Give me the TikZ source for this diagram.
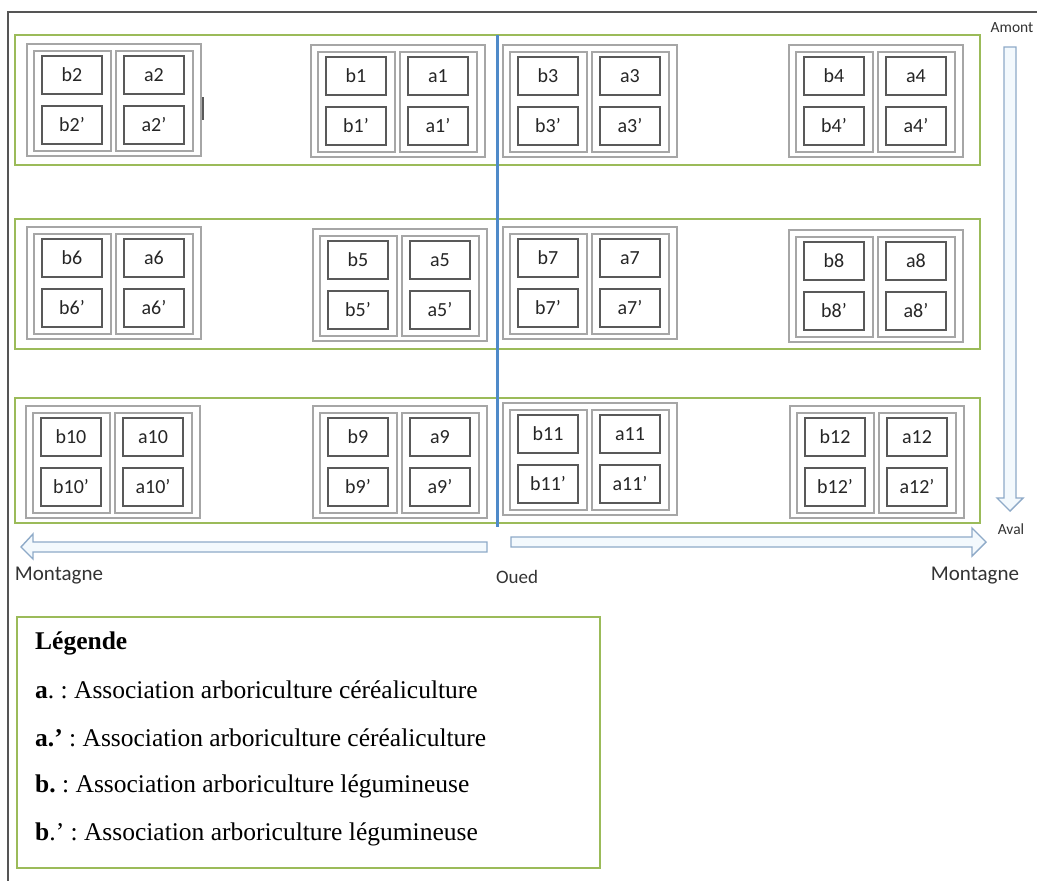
\documentclass[tikz,border=0pt]{standalone}
\usepackage{fontspec}
\setmainfont{Carlito}
\newfontfamily\legfont{Liberation Serif}
\frenchspacing
\definecolor{bandgreen}{HTML}{9BBB59}
\definecolor{boxgray}{HTML}{A6A6A6}
\definecolor{lblgray}{HTML}{595959}
\definecolor{riverblue}{HTML}{4F8AC9}
\definecolor{arrowline}{HTML}{8EAAC8}
\definecolor{arrowfill}{HTML}{F3F9FD}
\definecolor{framegray}{HTML}{555555}
\tikzset{
  band/.style={draw=bandgreen,line width=1.6pt},
  blk/.style={draw=boxgray,line width=1.6pt},
  lbl/.style={draw=lblgray,line width=1.3pt,minimum width=60pt,minimum height=38pt,inner sep=0pt,font=\fontsize{20}{20}\selectfont,text=black!85},
  hollow/.style={draw=arrowline,fill=arrowfill,line width=1.4pt,line join=miter},
  tag/.style={font=\fontsize{21}{21}\selectfont,text=black!80,inner sep=0pt},
  smalltag/.style={font=\fontsize{15.5}{15.5}\selectfont,text=black!80,inner sep=0pt},
  legline/.style={anchor=west,inner sep=0pt,font=\legfont\fontsize{25.5}{25.5}\selectfont}
}
\newcommand\plotblock[3]{%
  \draw[blk] (#1,#2) rectangle ++(174,112);
  \draw[blk] (#1+7,#2+7) rectangle ++(77,100);
  \draw[blk] (#1+89,#2+7) rectangle ++(77,100);
  \node[lbl] (b#3) at (#1+45,#2+31) {b#3};
  \node[lbl] (b#3p) at (#1+45,#2+81) {b#3’};
  \node[lbl] (a#3) at (#1+127,#2+31) {a#3};
  \node[lbl] (a#3p) at (#1+127,#2+81) {a#3’};
}
\begin{document}
\begin{tikzpicture}[x=1pt,y=-1pt]
\useasboundingbox (0,0) rectangle (1037,881);
\fill[white] (0,0) rectangle (1037,881);
% frame lines
\draw[framegray,line width=1.2pt] (8,881) -- (8,12) -- (1037,12);
% bands
\draw[band] (15,35) rectangle (980,165);
\draw[band] (15,219) rectangle (980,349);
\draw[band] (15,398) rectangle (980,523);
% blocks row 1
\plotblock{27}{44}{2}
\plotblock{311}{45}{1}
\plotblock{503}{45}{3}
\plotblock{789}{45}{4}
\draw[lblgray,line width=1.2pt] (203,97) -- (203,120);
% row 2
\plotblock{27}{227}{6}
\plotblock{313}{229}{5}
\plotblock{503}{227}{7}
\plotblock{789}{230}{8}
% row 3
\plotblock{26}{406}{10}
\plotblock{313}{406}{9}
\plotblock{503}{403}{11}
\plotblock{790}{406}{12}
% river
\draw[riverblue,line width=3pt] (497,35) -- (497,527);
% arrows
\draw[hollow] (1004,47) -- (1016,47) -- (1016,498) -- (1023,498) -- (1010,511) -- (997,498) -- (1004,498) -- cycle;
\draw[hollow] (487,542) -- (33,542) -- (33,534) -- (21,547) -- (33,559) -- (33,552) -- (487,552) -- cycle;
\draw[hollow] (511,537) -- (972,537) -- (972,528) -- (986,542) -- (972,556) -- (972,547) -- (511,547) -- cycle;
% labels
\node[smalltag] (amont) at (1012,28) {Amont};
\node[smalltag] (aval) at (1011,529) {Aval};
\node[tag] (mleft) at (59,576) {Montagne};
\node[tag,font=\fontsize{19}{19}\selectfont] (oued) at (517,577) {Oued};
\node[tag] (mright) at (975,576) {Montagne};
% legend
\draw[band] (17,617) rectangle (600,868);
\node[legline,font=\legfont\bfseries\fontsize{25.5}{25.5}\selectfont] (legt) at (35,643) {Légende};
\node[legline] (l1) at (35,690) {\textbf{a}. : Association arboriculture céréaliculture};
\node[legline] (l2) at (35,738) {\textbf{a.’} : Association arboriculture céréaliculture};
\node[legline] (l3) at (35,786) {\textbf{b.} : Association arboriculture légumineuse};
\node[legline] (l4) at (35,834) {\textbf{b}.’ : Association arboriculture légumineuse};
\end{tikzpicture}
\end{document}
